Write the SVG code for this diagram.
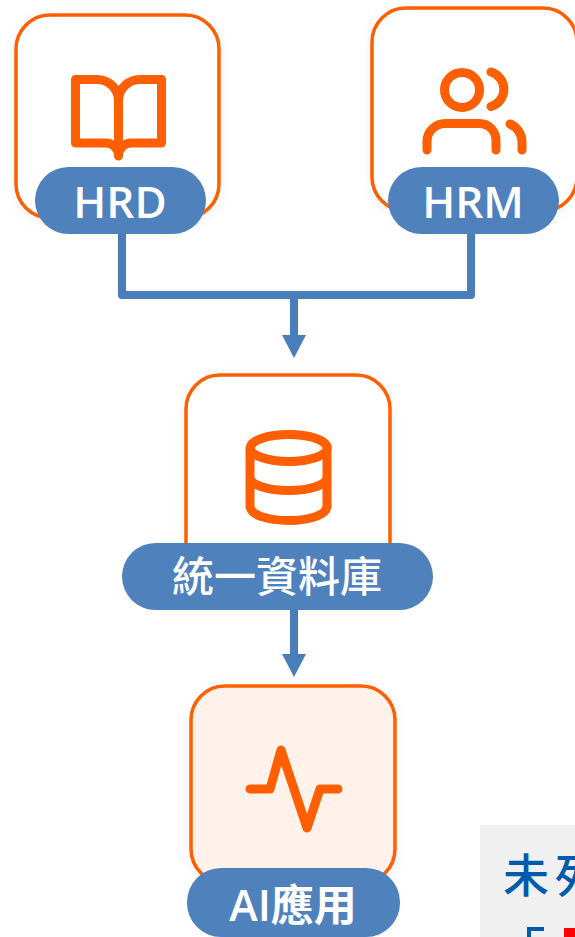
<svg xmlns="http://www.w3.org/2000/svg" width="575" height="937" viewBox="0 0 575 937">
<defs>
<filter id="sh" x="-15%" y="-15%" width="130%" height="130%"><feDropShadow dx="0" dy="3" stdDeviation="6" flood-color="#000" flood-opacity="0.06"/></filter>
<marker id="arr" markerUnits="userSpaceOnUse" markerWidth="24" markerHeight="24" refX="0" refY="12" orient="auto"><path d="M0 0L23 12L0 24Z" fill="#4a7ebb"/></marker>
</defs>
<style>
.card{stroke:#ff5f00;stroke-width:3.5;fill:#fff;filter:url(#sh)}
.ic{fill:none;stroke:#ff5f00;stroke-width:9;stroke-linecap:round;stroke-linejoin:round}
.pill{fill:#4f81bd}
.lb{fill:#fff;font-family:"Open Sans","Noto Sans CJK TC",sans-serif;font-weight:600;font-size:44px;text-anchor:middle}
.cn{fill:none;stroke:#4a7ebb;stroke-width:8;stroke-linejoin:round}
</style>
<rect width="575" height="937" fill="#fff"/>
<rect x="480" y="825" width="95" height="112" fill="#f0f0f0"/>
<text x="503" y="892" font-family="'Noto Sans CJK TC',sans-serif" font-weight="500" font-size="46" fill="#005bac">未<tspan dx="6">列</tspan></text>
<g id="connectors">
<path class="cn" d="M122 233V295H471V233"/>
<path class="cn" d="M294 295V335" marker-end="url(#arr)"/>
<path class="cn" d="M294 609V654" marker-end="url(#arr)"/>
</g>
<g id="hrd">
<rect class="card" x="16" y="15" width="203" height="203" rx="34"/>
<path class="ic" d="M118.500 156V101C118.500 87 107 79.500 97 79.500H75.500V143H106C112 143 118.500 148 118.500 156C118.500 148 125 143 131 143H161.500V79.500H140C130 79.500 118.500 87 118.500 101"/>
<rect class="pill" x="35" y="167" width="171" height="67" rx="33.500"/>
<text class="lb" x="120" y="218">HRD</text>
</g>
<g id="hrm">
<rect class="card" x="372" y="8" width="205" height="203" rx="34"/>
<circle class="ic" cx="462" cy="90" r="17.500"/>
<path class="ic" d="M427 150V141C427 131 436 123.500 445 123.500H479C489 123.500 496 131 496 141V150M491 72A18 18 0 0 1 491 106.500M510 124C517 127 522 134 522 142V150"/>
<rect class="pill" x="388" y="167" width="171" height="67" rx="33.500"/>
<text class="lb" x="473" y="218">HRM</text>
</g>
<g id="db">
<rect class="card" x="186" y="375" width="204" height="203" rx="34"/>
<ellipse class="ic" cx="288.700" cy="448" rx="38.500" ry="13.500"/>
<path class="ic" d="M250 448V506C250 515 268 520.500 288.700 520.500S327 515 327 506V448M250 477C250 485 268 490.500 288.700 490.500S327 485 327 477"/>
<rect class="pill" x="122" y="543" width="311" height="67" rx="33.500"/>
<text class="lb" x="277" y="592" style="font-family:'Noto Sans CJK TC',sans-serif;font-weight:500;font-size:42px">統一資料庫</text>
</g>
<g id="ai">
<rect class="card" x="191" y="686" width="204" height="197" rx="34" style="fill:#fff2eb"/>
<path class="ic" d="M250 789H270L281 750L307 828L320 789H338"/>
<rect class="pill" x="187" y="868" width="213" height="69" rx="34"/>
<text class="lb" x="293" y="921" style="font-size:43px">AI應用</text>
</g>
<path d="M529 937V929H544" fill="none" stroke="#005bac" stroke-width="4"/>
<rect x="564" y="928" width="11" height="9" fill="#f00"/>
</svg>
